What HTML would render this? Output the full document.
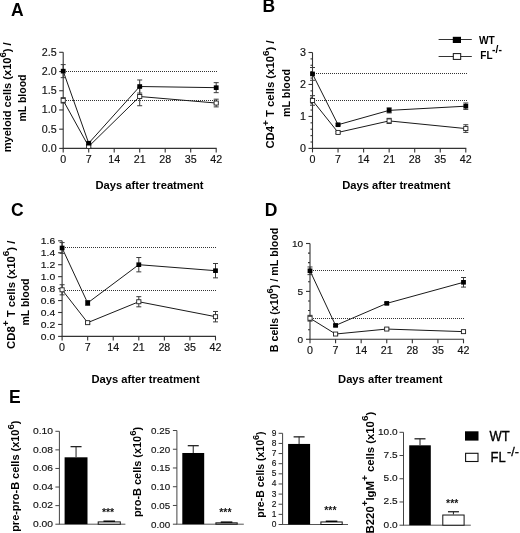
<!DOCTYPE html>
<html><head><meta charset="utf-8"><style>
html,body{margin:0;padding:0;background:#fff;}
svg{display:block;font-family:"Liberation Sans", sans-serif;filter:blur(0.3px);}
</style></head><body>
<svg width="520" height="533" viewBox="0 0 520 533">
<rect width="520" height="533" fill="#fff"/>
<line x1="63.20" y1="52.30" x2="63.20" y2="148.90" stroke="#333" stroke-width="1.1"/>
<line x1="62.70" y1="148.40" x2="216.70" y2="148.40" stroke="#333" stroke-width="1.1"/>
<line x1="59.20" y1="148.40" x2="63.20" y2="148.40" stroke="#333" stroke-width="1.1"/>
<text x="0" y="0" font-size="10.2" text-anchor="end" transform="translate(56.60 151.80) scale(1.05 1)" fill="#111" stroke="#111" stroke-width="0.15">0.0</text>
<line x1="59.20" y1="129.18" x2="63.20" y2="129.18" stroke="#333" stroke-width="1.1"/>
<text x="0" y="0" font-size="10.2" text-anchor="end" transform="translate(56.60 132.58) scale(1.05 1)" fill="#111" stroke="#111" stroke-width="0.15">0.5</text>
<line x1="59.20" y1="109.96" x2="63.20" y2="109.96" stroke="#333" stroke-width="1.1"/>
<text x="0" y="0" font-size="10.2" text-anchor="end" transform="translate(56.60 113.36) scale(1.05 1)" fill="#111" stroke="#111" stroke-width="0.15">1.0</text>
<line x1="59.20" y1="90.74" x2="63.20" y2="90.74" stroke="#333" stroke-width="1.1"/>
<text x="0" y="0" font-size="10.2" text-anchor="end" transform="translate(56.60 94.14) scale(1.05 1)" fill="#111" stroke="#111" stroke-width="0.15">1.5</text>
<line x1="59.20" y1="71.52" x2="63.20" y2="71.52" stroke="#333" stroke-width="1.1"/>
<text x="0" y="0" font-size="10.2" text-anchor="end" transform="translate(56.60 74.92) scale(1.05 1)" fill="#111" stroke="#111" stroke-width="0.15">2.0</text>
<line x1="59.20" y1="52.30" x2="63.20" y2="52.30" stroke="#333" stroke-width="1.1"/>
<text x="0" y="0" font-size="10.2" text-anchor="end" transform="translate(56.60 55.70) scale(1.05 1)" fill="#111" stroke="#111" stroke-width="0.15">2.5</text>
<line x1="63.20" y1="148.40" x2="63.20" y2="152.40" stroke="#333" stroke-width="1.1"/>
<text x="0" y="0" font-size="10.2" text-anchor="middle" transform="translate(63.20 162.90) scale(1.05 1)" fill="#111" stroke="#111" stroke-width="0.15">0</text>
<line x1="88.70" y1="148.40" x2="88.70" y2="152.40" stroke="#333" stroke-width="1.1"/>
<text x="0" y="0" font-size="10.2" text-anchor="middle" transform="translate(88.70 162.90) scale(1.05 1)" fill="#111" stroke="#111" stroke-width="0.15">7</text>
<line x1="114.20" y1="148.40" x2="114.20" y2="152.40" stroke="#333" stroke-width="1.1"/>
<text x="0" y="0" font-size="10.2" text-anchor="middle" transform="translate(114.20 162.90) scale(1.05 1)" fill="#111" stroke="#111" stroke-width="0.15">14</text>
<line x1="139.70" y1="148.40" x2="139.70" y2="152.40" stroke="#333" stroke-width="1.1"/>
<text x="0" y="0" font-size="10.2" text-anchor="middle" transform="translate(139.70 162.90) scale(1.05 1)" fill="#111" stroke="#111" stroke-width="0.15">21</text>
<line x1="165.20" y1="148.40" x2="165.20" y2="152.40" stroke="#333" stroke-width="1.1"/>
<text x="0" y="0" font-size="10.2" text-anchor="middle" transform="translate(165.20 162.90) scale(1.05 1)" fill="#111" stroke="#111" stroke-width="0.15">28</text>
<line x1="190.70" y1="148.40" x2="190.70" y2="152.40" stroke="#333" stroke-width="1.1"/>
<text x="0" y="0" font-size="10.2" text-anchor="middle" transform="translate(190.70 162.90) scale(1.05 1)" fill="#111" stroke="#111" stroke-width="0.15">35</text>
<line x1="216.20" y1="148.40" x2="216.20" y2="152.40" stroke="#333" stroke-width="1.1"/>
<text x="0" y="0" font-size="10.2" text-anchor="middle" transform="translate(216.20 162.90) scale(1.05 1)" fill="#111" stroke="#111" stroke-width="0.15">42</text>
<line x1="64.00" y1="71.50" x2="217.00" y2="71.50" stroke="#333" stroke-width="1" stroke-dasharray="1 1"/>
<line x1="64.00" y1="100.50" x2="217.00" y2="100.50" stroke="#333" stroke-width="1" stroke-dasharray="1 1"/>
<polyline points="63.20,100.35 88.70,146.48 139.70,96.51 216.20,103.04" fill="none" stroke="#1a1a1a" stroke-width="1"/>
<line x1="63.20" y1="97.66" x2="63.20" y2="103.04" stroke="#3a3a3a" stroke-width="1"/>
<line x1="60.70" y1="97.66" x2="65.70" y2="97.66" stroke="#3a3a3a" stroke-width="1"/>
<line x1="60.70" y1="103.04" x2="65.70" y2="103.04" stroke="#3a3a3a" stroke-width="1"/>
<rect x="61.10" y="98.35" width="4.20" height="4.00" fill="#fff" stroke="#222" stroke-width="0.9"/>
<line x1="88.70" y1="145.32" x2="88.70" y2="147.63" stroke="#3a3a3a" stroke-width="1"/>
<line x1="86.20" y1="145.32" x2="91.20" y2="145.32" stroke="#3a3a3a" stroke-width="1"/>
<line x1="86.20" y1="147.63" x2="91.20" y2="147.63" stroke="#3a3a3a" stroke-width="1"/>
<rect x="86.60" y="144.48" width="4.20" height="4.00" fill="#fff" stroke="#222" stroke-width="0.9"/>
<line x1="139.70" y1="87.28" x2="139.70" y2="105.73" stroke="#3a3a3a" stroke-width="1"/>
<line x1="137.20" y1="87.28" x2="142.20" y2="87.28" stroke="#3a3a3a" stroke-width="1"/>
<line x1="137.20" y1="105.73" x2="142.20" y2="105.73" stroke="#3a3a3a" stroke-width="1"/>
<rect x="137.60" y="94.51" width="4.20" height="4.00" fill="#fff" stroke="#222" stroke-width="0.9"/>
<line x1="216.20" y1="99.20" x2="216.20" y2="106.88" stroke="#3a3a3a" stroke-width="1"/>
<line x1="213.70" y1="99.20" x2="218.70" y2="99.20" stroke="#3a3a3a" stroke-width="1"/>
<line x1="213.70" y1="106.88" x2="218.70" y2="106.88" stroke="#3a3a3a" stroke-width="1"/>
<rect x="214.10" y="101.04" width="4.20" height="4.00" fill="#fff" stroke="#222" stroke-width="0.9"/>
<polyline points="63.20,71.14 88.70,143.21 139.70,86.51 216.20,87.66" fill="none" stroke="#1a1a1a" stroke-width="1"/>
<line x1="63.20" y1="64.60" x2="63.20" y2="77.67" stroke="#3a3a3a" stroke-width="1"/>
<line x1="60.70" y1="64.60" x2="65.70" y2="64.60" stroke="#3a3a3a" stroke-width="1"/>
<line x1="60.70" y1="77.67" x2="65.70" y2="77.67" stroke="#3a3a3a" stroke-width="1"/>
<rect x="60.80" y="68.84" width="4.80" height="4.60" fill="#000" stroke="none" stroke-width="1"/>
<line x1="88.70" y1="142.06" x2="88.70" y2="144.36" stroke="#3a3a3a" stroke-width="1"/>
<line x1="86.20" y1="142.06" x2="91.20" y2="142.06" stroke="#3a3a3a" stroke-width="1"/>
<line x1="86.20" y1="144.36" x2="91.20" y2="144.36" stroke="#3a3a3a" stroke-width="1"/>
<rect x="86.30" y="140.91" width="4.80" height="4.60" fill="#000" stroke="none" stroke-width="1"/>
<line x1="139.70" y1="79.98" x2="139.70" y2="93.05" stroke="#3a3a3a" stroke-width="1"/>
<line x1="137.20" y1="79.98" x2="142.20" y2="79.98" stroke="#3a3a3a" stroke-width="1"/>
<line x1="137.20" y1="93.05" x2="142.20" y2="93.05" stroke="#3a3a3a" stroke-width="1"/>
<rect x="137.30" y="84.21" width="4.80" height="4.60" fill="#000" stroke="none" stroke-width="1"/>
<line x1="216.20" y1="82.67" x2="216.20" y2="92.66" stroke="#3a3a3a" stroke-width="1"/>
<line x1="213.70" y1="82.67" x2="218.70" y2="82.67" stroke="#3a3a3a" stroke-width="1"/>
<line x1="213.70" y1="92.66" x2="218.70" y2="92.66" stroke="#3a3a3a" stroke-width="1"/>
<rect x="213.80" y="85.36" width="4.80" height="4.60" fill="#000" stroke="none" stroke-width="1"/>
<line x1="312.50" y1="52.50" x2="312.50" y2="148.90" stroke="#333" stroke-width="1.1"/>
<line x1="312.00" y1="148.40" x2="466.30" y2="148.40" stroke="#333" stroke-width="1.1"/>
<line x1="308.50" y1="148.40" x2="312.50" y2="148.40" stroke="#333" stroke-width="1.1"/>
<text x="0" y="0" font-size="10.2" text-anchor="end" transform="translate(305.90 151.80) scale(1.05 1)" fill="#111" stroke="#111" stroke-width="0.15">0</text>
<line x1="308.50" y1="116.43" x2="312.50" y2="116.43" stroke="#333" stroke-width="1.1"/>
<text x="0" y="0" font-size="10.2" text-anchor="end" transform="translate(305.90 119.83) scale(1.05 1)" fill="#111" stroke="#111" stroke-width="0.15">1</text>
<line x1="308.50" y1="84.47" x2="312.50" y2="84.47" stroke="#333" stroke-width="1.1"/>
<text x="0" y="0" font-size="10.2" text-anchor="end" transform="translate(305.90 87.87) scale(1.05 1)" fill="#111" stroke="#111" stroke-width="0.15">2</text>
<line x1="308.50" y1="52.50" x2="312.50" y2="52.50" stroke="#333" stroke-width="1.1"/>
<text x="0" y="0" font-size="10.2" text-anchor="end" transform="translate(305.90 55.90) scale(1.05 1)" fill="#111" stroke="#111" stroke-width="0.15">3</text>
<line x1="310.50" y1="142.01" x2="312.50" y2="142.01" stroke="#333" stroke-width="1.1"/>
<line x1="310.50" y1="135.61" x2="312.50" y2="135.61" stroke="#333" stroke-width="1.1"/>
<line x1="310.50" y1="129.22" x2="312.50" y2="129.22" stroke="#333" stroke-width="1.1"/>
<line x1="310.50" y1="122.83" x2="312.50" y2="122.83" stroke="#333" stroke-width="1.1"/>
<line x1="310.50" y1="110.04" x2="312.50" y2="110.04" stroke="#333" stroke-width="1.1"/>
<line x1="310.50" y1="103.65" x2="312.50" y2="103.65" stroke="#333" stroke-width="1.1"/>
<line x1="310.50" y1="97.25" x2="312.50" y2="97.25" stroke="#333" stroke-width="1.1"/>
<line x1="310.50" y1="90.86" x2="312.50" y2="90.86" stroke="#333" stroke-width="1.1"/>
<line x1="310.50" y1="78.07" x2="312.50" y2="78.07" stroke="#333" stroke-width="1.1"/>
<line x1="310.50" y1="71.68" x2="312.50" y2="71.68" stroke="#333" stroke-width="1.1"/>
<line x1="310.50" y1="65.29" x2="312.50" y2="65.29" stroke="#333" stroke-width="1.1"/>
<line x1="310.50" y1="58.89" x2="312.50" y2="58.89" stroke="#333" stroke-width="1.1"/>
<line x1="312.50" y1="148.40" x2="312.50" y2="152.40" stroke="#333" stroke-width="1.1"/>
<text x="0" y="0" font-size="10.2" text-anchor="middle" transform="translate(312.50 162.90) scale(1.05 1)" fill="#111" stroke="#111" stroke-width="0.15">0</text>
<line x1="338.05" y1="148.40" x2="338.05" y2="152.40" stroke="#333" stroke-width="1.1"/>
<text x="0" y="0" font-size="10.2" text-anchor="middle" transform="translate(338.05 162.90) scale(1.05 1)" fill="#111" stroke="#111" stroke-width="0.15">7</text>
<line x1="363.60" y1="148.40" x2="363.60" y2="152.40" stroke="#333" stroke-width="1.1"/>
<text x="0" y="0" font-size="10.2" text-anchor="middle" transform="translate(363.60 162.90) scale(1.05 1)" fill="#111" stroke="#111" stroke-width="0.15">14</text>
<line x1="389.15" y1="148.40" x2="389.15" y2="152.40" stroke="#333" stroke-width="1.1"/>
<text x="0" y="0" font-size="10.2" text-anchor="middle" transform="translate(389.15 162.90) scale(1.05 1)" fill="#111" stroke="#111" stroke-width="0.15">21</text>
<line x1="414.70" y1="148.40" x2="414.70" y2="152.40" stroke="#333" stroke-width="1.1"/>
<text x="0" y="0" font-size="10.2" text-anchor="middle" transform="translate(414.70 162.90) scale(1.05 1)" fill="#111" stroke="#111" stroke-width="0.15">28</text>
<line x1="440.25" y1="148.40" x2="440.25" y2="152.40" stroke="#333" stroke-width="1.1"/>
<text x="0" y="0" font-size="10.2" text-anchor="middle" transform="translate(440.25 162.90) scale(1.05 1)" fill="#111" stroke="#111" stroke-width="0.15">35</text>
<line x1="465.80" y1="148.40" x2="465.80" y2="152.40" stroke="#333" stroke-width="1.1"/>
<text x="0" y="0" font-size="10.2" text-anchor="middle" transform="translate(465.80 162.90) scale(1.05 1)" fill="#111" stroke="#111" stroke-width="0.15">42</text>
<line x1="314.00" y1="73.50" x2="467.00" y2="73.50" stroke="#333" stroke-width="1" stroke-dasharray="1 1"/>
<line x1="314.00" y1="100.50" x2="467.00" y2="100.50" stroke="#333" stroke-width="1" stroke-dasharray="1 1"/>
<polyline points="312.50,100.45 338.05,132.42 389.15,120.91 465.80,128.58" fill="none" stroke="#1a1a1a" stroke-width="1"/>
<line x1="312.50" y1="95.66" x2="312.50" y2="105.25" stroke="#3a3a3a" stroke-width="1"/>
<line x1="310.00" y1="95.66" x2="315.00" y2="95.66" stroke="#3a3a3a" stroke-width="1"/>
<line x1="310.00" y1="105.25" x2="315.00" y2="105.25" stroke="#3a3a3a" stroke-width="1"/>
<rect x="310.40" y="98.45" width="4.20" height="4.00" fill="#fff" stroke="#222" stroke-width="0.9"/>
<line x1="338.05" y1="131.46" x2="338.05" y2="133.38" stroke="#3a3a3a" stroke-width="1"/>
<line x1="335.55" y1="131.46" x2="340.55" y2="131.46" stroke="#3a3a3a" stroke-width="1"/>
<line x1="335.55" y1="133.38" x2="340.55" y2="133.38" stroke="#3a3a3a" stroke-width="1"/>
<rect x="335.95" y="130.42" width="4.20" height="4.00" fill="#fff" stroke="#222" stroke-width="0.9"/>
<line x1="389.15" y1="118.35" x2="389.15" y2="123.47" stroke="#3a3a3a" stroke-width="1"/>
<line x1="386.65" y1="118.35" x2="391.65" y2="118.35" stroke="#3a3a3a" stroke-width="1"/>
<line x1="386.65" y1="123.47" x2="391.65" y2="123.47" stroke="#3a3a3a" stroke-width="1"/>
<rect x="387.05" y="118.91" width="4.20" height="4.00" fill="#fff" stroke="#222" stroke-width="0.9"/>
<line x1="465.80" y1="124.74" x2="465.80" y2="132.42" stroke="#3a3a3a" stroke-width="1"/>
<line x1="463.30" y1="124.74" x2="468.30" y2="124.74" stroke="#3a3a3a" stroke-width="1"/>
<line x1="463.30" y1="132.42" x2="468.30" y2="132.42" stroke="#3a3a3a" stroke-width="1"/>
<rect x="463.70" y="126.58" width="4.20" height="4.00" fill="#fff" stroke="#222" stroke-width="0.9"/>
<polyline points="312.50,73.92 338.05,124.74 389.15,110.36 465.80,106.20" fill="none" stroke="#1a1a1a" stroke-width="1"/>
<line x1="312.50" y1="67.52" x2="312.50" y2="80.31" stroke="#3a3a3a" stroke-width="1"/>
<line x1="310.00" y1="67.52" x2="315.00" y2="67.52" stroke="#3a3a3a" stroke-width="1"/>
<line x1="310.00" y1="80.31" x2="315.00" y2="80.31" stroke="#3a3a3a" stroke-width="1"/>
<rect x="310.10" y="71.62" width="4.80" height="4.60" fill="#000" stroke="none" stroke-width="1"/>
<line x1="338.05" y1="123.79" x2="338.05" y2="125.70" stroke="#3a3a3a" stroke-width="1"/>
<line x1="335.55" y1="123.79" x2="340.55" y2="123.79" stroke="#3a3a3a" stroke-width="1"/>
<line x1="335.55" y1="125.70" x2="340.55" y2="125.70" stroke="#3a3a3a" stroke-width="1"/>
<rect x="335.65" y="122.44" width="4.80" height="4.60" fill="#000" stroke="none" stroke-width="1"/>
<line x1="389.15" y1="107.80" x2="389.15" y2="112.92" stroke="#3a3a3a" stroke-width="1"/>
<line x1="386.65" y1="107.80" x2="391.65" y2="107.80" stroke="#3a3a3a" stroke-width="1"/>
<line x1="386.65" y1="112.92" x2="391.65" y2="112.92" stroke="#3a3a3a" stroke-width="1"/>
<rect x="386.75" y="108.06" width="4.80" height="4.60" fill="#000" stroke="none" stroke-width="1"/>
<line x1="465.80" y1="103.01" x2="465.80" y2="109.40" stroke="#3a3a3a" stroke-width="1"/>
<line x1="463.30" y1="103.01" x2="468.30" y2="103.01" stroke="#3a3a3a" stroke-width="1"/>
<line x1="463.30" y1="109.40" x2="468.30" y2="109.40" stroke="#3a3a3a" stroke-width="1"/>
<rect x="463.40" y="103.90" width="4.80" height="4.60" fill="#000" stroke="none" stroke-width="1"/>
<line x1="62.10" y1="240.80" x2="62.10" y2="336.90" stroke="#333" stroke-width="1.1"/>
<line x1="61.60" y1="336.40" x2="216.00" y2="336.40" stroke="#333" stroke-width="1.1"/>
<line x1="58.10" y1="336.40" x2="62.10" y2="336.40" stroke="#333" stroke-width="1.1"/>
<text x="0" y="0" font-size="9.0" text-anchor="end" transform="translate(55.20 339.80) scale(1.15 1)" fill="#111" stroke="#111" stroke-width="0.15">0.0</text>
<line x1="58.10" y1="324.45" x2="62.10" y2="324.45" stroke="#333" stroke-width="1.1"/>
<text x="0" y="0" font-size="9.0" text-anchor="end" transform="translate(55.20 327.85) scale(1.15 1)" fill="#111" stroke="#111" stroke-width="0.15">0.2</text>
<line x1="58.10" y1="312.50" x2="62.10" y2="312.50" stroke="#333" stroke-width="1.1"/>
<text x="0" y="0" font-size="9.0" text-anchor="end" transform="translate(55.20 315.90) scale(1.15 1)" fill="#111" stroke="#111" stroke-width="0.15">0.4</text>
<line x1="58.10" y1="300.55" x2="62.10" y2="300.55" stroke="#333" stroke-width="1.1"/>
<text x="0" y="0" font-size="9.0" text-anchor="end" transform="translate(55.20 303.95) scale(1.15 1)" fill="#111" stroke="#111" stroke-width="0.15">0.6</text>
<line x1="58.10" y1="288.60" x2="62.10" y2="288.60" stroke="#333" stroke-width="1.1"/>
<text x="0" y="0" font-size="9.0" text-anchor="end" transform="translate(55.20 292.00) scale(1.15 1)" fill="#111" stroke="#111" stroke-width="0.15">0.8</text>
<line x1="58.10" y1="276.65" x2="62.10" y2="276.65" stroke="#333" stroke-width="1.1"/>
<text x="0" y="0" font-size="9.0" text-anchor="end" transform="translate(55.20 280.05) scale(1.15 1)" fill="#111" stroke="#111" stroke-width="0.15">1.0</text>
<line x1="58.10" y1="264.70" x2="62.10" y2="264.70" stroke="#333" stroke-width="1.1"/>
<text x="0" y="0" font-size="9.0" text-anchor="end" transform="translate(55.20 268.10) scale(1.15 1)" fill="#111" stroke="#111" stroke-width="0.15">1.2</text>
<line x1="58.10" y1="252.75" x2="62.10" y2="252.75" stroke="#333" stroke-width="1.1"/>
<text x="0" y="0" font-size="9.0" text-anchor="end" transform="translate(55.20 256.15) scale(1.15 1)" fill="#111" stroke="#111" stroke-width="0.15">1.4</text>
<line x1="58.10" y1="240.80" x2="62.10" y2="240.80" stroke="#333" stroke-width="1.1"/>
<text x="0" y="0" font-size="9.0" text-anchor="end" transform="translate(55.20 244.20) scale(1.15 1)" fill="#111" stroke="#111" stroke-width="0.15">1.6</text>
<line x1="62.10" y1="336.40" x2="62.10" y2="340.40" stroke="#333" stroke-width="1.1"/>
<text x="0" y="0" font-size="10.2" text-anchor="middle" transform="translate(62.10 350.90) scale(1.05 1)" fill="#111" stroke="#111" stroke-width="0.15">0</text>
<line x1="87.67" y1="336.40" x2="87.67" y2="340.40" stroke="#333" stroke-width="1.1"/>
<text x="0" y="0" font-size="10.2" text-anchor="middle" transform="translate(87.67 350.90) scale(1.05 1)" fill="#111" stroke="#111" stroke-width="0.15">7</text>
<line x1="113.23" y1="336.40" x2="113.23" y2="340.40" stroke="#333" stroke-width="1.1"/>
<text x="0" y="0" font-size="10.2" text-anchor="middle" transform="translate(113.23 350.90) scale(1.05 1)" fill="#111" stroke="#111" stroke-width="0.15">14</text>
<line x1="138.80" y1="336.40" x2="138.80" y2="340.40" stroke="#333" stroke-width="1.1"/>
<text x="0" y="0" font-size="10.2" text-anchor="middle" transform="translate(138.80 350.90) scale(1.05 1)" fill="#111" stroke="#111" stroke-width="0.15">21</text>
<line x1="164.37" y1="336.40" x2="164.37" y2="340.40" stroke="#333" stroke-width="1.1"/>
<text x="0" y="0" font-size="10.2" text-anchor="middle" transform="translate(164.37 350.90) scale(1.05 1)" fill="#111" stroke="#111" stroke-width="0.15">28</text>
<line x1="189.93" y1="336.40" x2="189.93" y2="340.40" stroke="#333" stroke-width="1.1"/>
<text x="0" y="0" font-size="10.2" text-anchor="middle" transform="translate(189.93 350.90) scale(1.05 1)" fill="#111" stroke="#111" stroke-width="0.15">35</text>
<line x1="215.50" y1="336.40" x2="215.50" y2="340.40" stroke="#333" stroke-width="1.1"/>
<text x="0" y="0" font-size="10.2" text-anchor="middle" transform="translate(215.50 350.90) scale(1.05 1)" fill="#111" stroke="#111" stroke-width="0.15">42</text>
<line x1="63.00" y1="247.50" x2="216.00" y2="247.50" stroke="#333" stroke-width="1" stroke-dasharray="1 1"/>
<line x1="63.00" y1="290.50" x2="216.00" y2="290.50" stroke="#333" stroke-width="1" stroke-dasharray="1 1"/>
<polyline points="62.10,289.80 87.67,322.66 138.80,301.75 215.50,316.68" fill="none" stroke="#1a1a1a" stroke-width="1"/>
<line x1="62.10" y1="284.72" x2="62.10" y2="294.87" stroke="#3a3a3a" stroke-width="1"/>
<line x1="59.60" y1="284.72" x2="64.60" y2="284.72" stroke="#3a3a3a" stroke-width="1"/>
<line x1="59.60" y1="294.87" x2="64.60" y2="294.87" stroke="#3a3a3a" stroke-width="1"/>
<rect x="60.00" y="287.80" width="4.20" height="4.00" fill="#fff" stroke="#222" stroke-width="0.9"/>
<line x1="87.67" y1="321.46" x2="87.67" y2="323.85" stroke="#3a3a3a" stroke-width="1"/>
<line x1="85.17" y1="321.46" x2="90.17" y2="321.46" stroke="#3a3a3a" stroke-width="1"/>
<line x1="85.17" y1="323.85" x2="90.17" y2="323.85" stroke="#3a3a3a" stroke-width="1"/>
<rect x="85.57" y="320.66" width="4.20" height="4.00" fill="#fff" stroke="#222" stroke-width="0.9"/>
<line x1="138.80" y1="296.67" x2="138.80" y2="306.82" stroke="#3a3a3a" stroke-width="1"/>
<line x1="136.30" y1="296.67" x2="141.30" y2="296.67" stroke="#3a3a3a" stroke-width="1"/>
<line x1="136.30" y1="306.82" x2="141.30" y2="306.82" stroke="#3a3a3a" stroke-width="1"/>
<rect x="136.70" y="299.75" width="4.20" height="4.00" fill="#fff" stroke="#222" stroke-width="0.9"/>
<line x1="215.50" y1="311.48" x2="215.50" y2="321.88" stroke="#3a3a3a" stroke-width="1"/>
<line x1="213.00" y1="311.48" x2="218.00" y2="311.48" stroke="#3a3a3a" stroke-width="1"/>
<line x1="213.00" y1="321.88" x2="218.00" y2="321.88" stroke="#3a3a3a" stroke-width="1"/>
<rect x="213.40" y="314.68" width="4.20" height="4.00" fill="#fff" stroke="#222" stroke-width="0.9"/>
<polyline points="62.10,247.97 87.67,302.94 138.80,264.70 215.50,270.68" fill="none" stroke="#1a1a1a" stroke-width="1"/>
<line x1="62.10" y1="242.59" x2="62.10" y2="253.35" stroke="#3a3a3a" stroke-width="1"/>
<line x1="59.60" y1="242.59" x2="64.60" y2="242.59" stroke="#3a3a3a" stroke-width="1"/>
<line x1="59.60" y1="253.35" x2="64.60" y2="253.35" stroke="#3a3a3a" stroke-width="1"/>
<rect x="59.70" y="245.67" width="4.80" height="4.60" fill="#000" stroke="none" stroke-width="1"/>
<line x1="87.67" y1="300.55" x2="87.67" y2="305.33" stroke="#3a3a3a" stroke-width="1"/>
<line x1="85.17" y1="300.55" x2="90.17" y2="300.55" stroke="#3a3a3a" stroke-width="1"/>
<line x1="85.17" y1="305.33" x2="90.17" y2="305.33" stroke="#3a3a3a" stroke-width="1"/>
<rect x="85.27" y="300.64" width="4.80" height="4.60" fill="#000" stroke="none" stroke-width="1"/>
<line x1="138.80" y1="257.53" x2="138.80" y2="271.87" stroke="#3a3a3a" stroke-width="1"/>
<line x1="136.30" y1="257.53" x2="141.30" y2="257.53" stroke="#3a3a3a" stroke-width="1"/>
<line x1="136.30" y1="271.87" x2="141.30" y2="271.87" stroke="#3a3a3a" stroke-width="1"/>
<rect x="136.40" y="262.40" width="4.80" height="4.60" fill="#000" stroke="none" stroke-width="1"/>
<line x1="215.50" y1="263.50" x2="215.50" y2="277.85" stroke="#3a3a3a" stroke-width="1"/>
<line x1="213.00" y1="263.50" x2="218.00" y2="263.50" stroke="#3a3a3a" stroke-width="1"/>
<line x1="213.00" y1="277.85" x2="218.00" y2="277.85" stroke="#3a3a3a" stroke-width="1"/>
<rect x="213.10" y="268.38" width="4.80" height="4.60" fill="#000" stroke="none" stroke-width="1"/>
<line x1="310.00" y1="243.50" x2="310.00" y2="339.80" stroke="#333" stroke-width="1.1"/>
<line x1="309.50" y1="339.30" x2="464.00" y2="339.30" stroke="#333" stroke-width="1.1"/>
<line x1="306.00" y1="339.30" x2="310.00" y2="339.30" stroke="#333" stroke-width="1.1"/>
<text x="0" y="0" font-size="9.0" text-anchor="end" transform="translate(303.10 342.70) scale(1.12 1)" fill="#111" stroke="#111" stroke-width="0.15">0</text>
<line x1="306.00" y1="291.40" x2="310.00" y2="291.40" stroke="#333" stroke-width="1.1"/>
<text x="0" y="0" font-size="9.0" text-anchor="end" transform="translate(303.10 294.80) scale(1.12 1)" fill="#111" stroke="#111" stroke-width="0.15">5</text>
<line x1="306.00" y1="243.50" x2="310.00" y2="243.50" stroke="#333" stroke-width="1.1"/>
<text x="0" y="0" font-size="9.0" text-anchor="end" transform="translate(303.10 246.90) scale(1.12 1)" fill="#111" stroke="#111" stroke-width="0.15">10</text>
<line x1="308.00" y1="329.72" x2="310.00" y2="329.72" stroke="#333" stroke-width="1.1"/>
<line x1="308.00" y1="320.14" x2="310.00" y2="320.14" stroke="#333" stroke-width="1.1"/>
<line x1="308.00" y1="310.56" x2="310.00" y2="310.56" stroke="#333" stroke-width="1.1"/>
<line x1="308.00" y1="300.98" x2="310.00" y2="300.98" stroke="#333" stroke-width="1.1"/>
<line x1="308.00" y1="281.82" x2="310.00" y2="281.82" stroke="#333" stroke-width="1.1"/>
<line x1="308.00" y1="272.24" x2="310.00" y2="272.24" stroke="#333" stroke-width="1.1"/>
<line x1="308.00" y1="262.66" x2="310.00" y2="262.66" stroke="#333" stroke-width="1.1"/>
<line x1="308.00" y1="253.08" x2="310.00" y2="253.08" stroke="#333" stroke-width="1.1"/>
<line x1="310.00" y1="339.30" x2="310.00" y2="343.30" stroke="#333" stroke-width="1.1"/>
<text x="0" y="0" font-size="10.2" text-anchor="middle" transform="translate(310.00 353.80) scale(1.05 1)" fill="#111" stroke="#111" stroke-width="0.15">0</text>
<line x1="335.58" y1="339.30" x2="335.58" y2="343.30" stroke="#333" stroke-width="1.1"/>
<text x="0" y="0" font-size="10.2" text-anchor="middle" transform="translate(335.58 353.80) scale(1.05 1)" fill="#111" stroke="#111" stroke-width="0.15">7</text>
<line x1="361.17" y1="339.30" x2="361.17" y2="343.30" stroke="#333" stroke-width="1.1"/>
<text x="0" y="0" font-size="10.2" text-anchor="middle" transform="translate(361.17 353.80) scale(1.05 1)" fill="#111" stroke="#111" stroke-width="0.15">14</text>
<line x1="386.75" y1="339.30" x2="386.75" y2="343.30" stroke="#333" stroke-width="1.1"/>
<text x="0" y="0" font-size="10.2" text-anchor="middle" transform="translate(386.75 353.80) scale(1.05 1)" fill="#111" stroke="#111" stroke-width="0.15">21</text>
<line x1="412.33" y1="339.30" x2="412.33" y2="343.30" stroke="#333" stroke-width="1.1"/>
<text x="0" y="0" font-size="10.2" text-anchor="middle" transform="translate(412.33 353.80) scale(1.05 1)" fill="#111" stroke="#111" stroke-width="0.15">28</text>
<line x1="437.92" y1="339.30" x2="437.92" y2="343.30" stroke="#333" stroke-width="1.1"/>
<text x="0" y="0" font-size="10.2" text-anchor="middle" transform="translate(437.92 353.80) scale(1.05 1)" fill="#111" stroke="#111" stroke-width="0.15">35</text>
<line x1="463.50" y1="339.30" x2="463.50" y2="343.30" stroke="#333" stroke-width="1.1"/>
<text x="0" y="0" font-size="10.2" text-anchor="middle" transform="translate(463.50 353.80) scale(1.05 1)" fill="#111" stroke="#111" stroke-width="0.15">42</text>
<line x1="311.00" y1="270.50" x2="464.00" y2="270.50" stroke="#333" stroke-width="1" stroke-dasharray="1 1"/>
<line x1="311.00" y1="318.50" x2="464.00" y2="318.50" stroke="#333" stroke-width="1" stroke-dasharray="1 1"/>
<polyline points="310.00,318.22 335.58,334.03 386.75,329.05 463.50,331.64" fill="none" stroke="#1a1a1a" stroke-width="1"/>
<line x1="310.00" y1="315.35" x2="310.00" y2="321.10" stroke="#3a3a3a" stroke-width="1"/>
<line x1="307.50" y1="315.35" x2="312.50" y2="315.35" stroke="#3a3a3a" stroke-width="1"/>
<line x1="307.50" y1="321.10" x2="312.50" y2="321.10" stroke="#3a3a3a" stroke-width="1"/>
<rect x="307.90" y="316.22" width="4.20" height="4.00" fill="#fff" stroke="#222" stroke-width="0.9"/>
<line x1="335.58" y1="333.07" x2="335.58" y2="334.99" stroke="#3a3a3a" stroke-width="1"/>
<line x1="333.08" y1="333.07" x2="338.08" y2="333.07" stroke="#3a3a3a" stroke-width="1"/>
<line x1="333.08" y1="334.99" x2="338.08" y2="334.99" stroke="#3a3a3a" stroke-width="1"/>
<rect x="333.48" y="332.03" width="4.20" height="4.00" fill="#fff" stroke="#222" stroke-width="0.9"/>
<line x1="386.75" y1="328.09" x2="386.75" y2="330.01" stroke="#3a3a3a" stroke-width="1"/>
<line x1="384.25" y1="328.09" x2="389.25" y2="328.09" stroke="#3a3a3a" stroke-width="1"/>
<line x1="384.25" y1="330.01" x2="389.25" y2="330.01" stroke="#3a3a3a" stroke-width="1"/>
<rect x="384.65" y="327.05" width="4.20" height="4.00" fill="#fff" stroke="#222" stroke-width="0.9"/>
<line x1="463.50" y1="330.68" x2="463.50" y2="332.59" stroke="#3a3a3a" stroke-width="1"/>
<line x1="461.00" y1="330.68" x2="466.00" y2="330.68" stroke="#3a3a3a" stroke-width="1"/>
<line x1="461.00" y1="332.59" x2="466.00" y2="332.59" stroke="#3a3a3a" stroke-width="1"/>
<rect x="461.40" y="329.64" width="4.20" height="4.00" fill="#fff" stroke="#222" stroke-width="0.9"/>
<polyline points="310.00,270.80 335.58,325.41 386.75,303.38 463.50,282.30" fill="none" stroke="#1a1a1a" stroke-width="1"/>
<line x1="310.00" y1="266.97" x2="310.00" y2="274.63" stroke="#3a3a3a" stroke-width="1"/>
<line x1="307.50" y1="266.97" x2="312.50" y2="266.97" stroke="#3a3a3a" stroke-width="1"/>
<line x1="307.50" y1="274.63" x2="312.50" y2="274.63" stroke="#3a3a3a" stroke-width="1"/>
<rect x="307.60" y="268.50" width="4.80" height="4.60" fill="#000" stroke="none" stroke-width="1"/>
<line x1="335.58" y1="324.45" x2="335.58" y2="326.37" stroke="#3a3a3a" stroke-width="1"/>
<line x1="333.08" y1="324.45" x2="338.08" y2="324.45" stroke="#3a3a3a" stroke-width="1"/>
<line x1="333.08" y1="326.37" x2="338.08" y2="326.37" stroke="#3a3a3a" stroke-width="1"/>
<rect x="333.18" y="323.11" width="4.80" height="4.60" fill="#000" stroke="none" stroke-width="1"/>
<line x1="386.75" y1="302.42" x2="386.75" y2="304.33" stroke="#3a3a3a" stroke-width="1"/>
<line x1="384.25" y1="302.42" x2="389.25" y2="302.42" stroke="#3a3a3a" stroke-width="1"/>
<line x1="384.25" y1="304.33" x2="389.25" y2="304.33" stroke="#3a3a3a" stroke-width="1"/>
<rect x="384.35" y="301.07" width="4.80" height="4.60" fill="#000" stroke="none" stroke-width="1"/>
<line x1="463.50" y1="277.51" x2="463.50" y2="287.09" stroke="#3a3a3a" stroke-width="1"/>
<line x1="461.00" y1="277.51" x2="466.00" y2="277.51" stroke="#3a3a3a" stroke-width="1"/>
<line x1="461.00" y1="287.09" x2="466.00" y2="287.09" stroke="#3a3a3a" stroke-width="1"/>
<rect x="461.10" y="280.00" width="4.80" height="4.60" fill="#000" stroke="none" stroke-width="1"/>
<line x1="59.40" y1="431.30" x2="59.40" y2="524.20" stroke="#444" stroke-width="1"/>
<line x1="58.90" y1="524.20" x2="125.40" y2="524.20" stroke="#555" stroke-width="1"/>
<line x1="55.40" y1="524.20" x2="59.40" y2="524.20" stroke="#444" stroke-width="1"/>
<text x="0" y="0" font-size="9.8" text-anchor="end" transform="translate(53.00 527.00) scale(1.05 1)" fill="#111" stroke="#111" stroke-width="0.15">0.00</text>
<line x1="55.40" y1="505.62" x2="59.40" y2="505.62" stroke="#444" stroke-width="1"/>
<text x="0" y="0" font-size="9.8" text-anchor="end" transform="translate(53.00 508.42) scale(1.05 1)" fill="#111" stroke="#111" stroke-width="0.15">0.02</text>
<line x1="55.40" y1="487.04" x2="59.40" y2="487.04" stroke="#444" stroke-width="1"/>
<text x="0" y="0" font-size="9.8" text-anchor="end" transform="translate(53.00 489.84) scale(1.05 1)" fill="#111" stroke="#111" stroke-width="0.15">0.04</text>
<line x1="55.40" y1="468.46" x2="59.40" y2="468.46" stroke="#444" stroke-width="1"/>
<text x="0" y="0" font-size="9.8" text-anchor="end" transform="translate(53.00 471.26) scale(1.05 1)" fill="#111" stroke="#111" stroke-width="0.15">0.06</text>
<line x1="55.40" y1="449.88" x2="59.40" y2="449.88" stroke="#444" stroke-width="1"/>
<text x="0" y="0" font-size="9.8" text-anchor="end" transform="translate(53.00 452.68) scale(1.05 1)" fill="#111" stroke="#111" stroke-width="0.15">0.08</text>
<line x1="55.40" y1="431.30" x2="59.40" y2="431.30" stroke="#444" stroke-width="1"/>
<text x="0" y="0" font-size="9.8" text-anchor="end" transform="translate(53.00 434.10) scale(1.05 1)" fill="#111" stroke="#111" stroke-width="0.15">0.10</text>
<rect x="64.60" y="457.31" width="22.90" height="66.89" fill="#000" stroke="none" stroke-width="1"/>
<line x1="76.05" y1="457.31" x2="76.05" y2="446.63" stroke="#333" stroke-width="1.1"/>
<line x1="70.55" y1="446.63" x2="81.55" y2="446.63" stroke="#222" stroke-width="1.3"/>
<rect x="98.20" y="521.91" width="22.10" height="2.29" fill="#fff" stroke="#111" stroke-width="1"/>
<line x1="103.45" y1="521.21" x2="115.05" y2="521.21" stroke="#000" stroke-width="1.4"/>
<text x="108.05" y="516.3" font-size="10.5" font-weight="bold" text-anchor="middle" fill="#111">***</text>
<line x1="176.90" y1="430.50" x2="176.90" y2="524.20" stroke="#444" stroke-width="1"/>
<line x1="176.40" y1="524.20" x2="243.80" y2="524.20" stroke="#555" stroke-width="1"/>
<line x1="172.90" y1="524.20" x2="176.90" y2="524.20" stroke="#444" stroke-width="1"/>
<text x="170.1" y="527.5" font-size="9.8" text-anchor="end" fill="#111" stroke="#111" stroke-width="0.15">0.00</text>
<line x1="172.90" y1="505.46" x2="176.90" y2="505.46" stroke="#444" stroke-width="1"/>
<text x="170.1" y="508.76000000000005" font-size="9.8" text-anchor="end" fill="#111" stroke="#111" stroke-width="0.15">0.05</text>
<line x1="172.90" y1="486.72" x2="176.90" y2="486.72" stroke="#444" stroke-width="1"/>
<text x="170.1" y="490.02000000000004" font-size="9.8" text-anchor="end" fill="#111" stroke="#111" stroke-width="0.15">0.10</text>
<line x1="172.90" y1="467.98" x2="176.90" y2="467.98" stroke="#444" stroke-width="1"/>
<text x="170.1" y="471.28000000000003" font-size="9.8" text-anchor="end" fill="#111" stroke="#111" stroke-width="0.15">0.15</text>
<line x1="172.90" y1="449.24" x2="176.90" y2="449.24" stroke="#444" stroke-width="1"/>
<text x="170.1" y="452.54" font-size="9.8" text-anchor="end" fill="#111" stroke="#111" stroke-width="0.15">0.20</text>
<line x1="172.90" y1="430.50" x2="176.90" y2="430.50" stroke="#444" stroke-width="1"/>
<text x="170.1" y="433.8" font-size="9.8" text-anchor="end" fill="#111" stroke="#111" stroke-width="0.15">0.25</text>
<rect x="182.30" y="452.99" width="21.90" height="71.21" fill="#000" stroke="none" stroke-width="1"/>
<line x1="193.25" y1="452.99" x2="193.25" y2="445.68" stroke="#333" stroke-width="1.1"/>
<line x1="187.75" y1="445.68" x2="198.75" y2="445.68" stroke="#222" stroke-width="1.3"/>
<rect x="215.90" y="522.83" width="21.30" height="1.37" fill="#fff" stroke="#111" stroke-width="1"/>
<line x1="220.75" y1="522.13" x2="232.35" y2="522.13" stroke="#000" stroke-width="1.4"/>
<text x="225.35000000000002" y="516.3" font-size="10.5" font-weight="bold" text-anchor="middle" fill="#111">***</text>
<line x1="282.60" y1="433.30" x2="282.60" y2="524.50" stroke="#444" stroke-width="1"/>
<line x1="282.10" y1="524.50" x2="348.00" y2="524.50" stroke="#555" stroke-width="1"/>
<line x1="278.60" y1="524.50" x2="282.60" y2="524.50" stroke="#444" stroke-width="1"/>
<text x="0" y="0" font-size="8.6" text-anchor="end" transform="translate(276.50 526.90) scale(0.98 1)" fill="#111" stroke="#111" stroke-width="0.15">0</text>
<line x1="278.60" y1="514.37" x2="282.60" y2="514.37" stroke="#444" stroke-width="1"/>
<text x="0" y="0" font-size="8.6" text-anchor="end" transform="translate(276.50 516.77) scale(0.98 1)" fill="#111" stroke="#111" stroke-width="0.15">1</text>
<line x1="278.60" y1="504.23" x2="282.60" y2="504.23" stroke="#444" stroke-width="1"/>
<text x="0" y="0" font-size="8.6" text-anchor="end" transform="translate(276.50 506.63) scale(0.98 1)" fill="#111" stroke="#111" stroke-width="0.15">2</text>
<line x1="278.60" y1="494.10" x2="282.60" y2="494.10" stroke="#444" stroke-width="1"/>
<text x="0" y="0" font-size="8.6" text-anchor="end" transform="translate(276.50 496.50) scale(0.98 1)" fill="#111" stroke="#111" stroke-width="0.15">3</text>
<line x1="278.60" y1="483.97" x2="282.60" y2="483.97" stroke="#444" stroke-width="1"/>
<text x="0" y="0" font-size="8.6" text-anchor="end" transform="translate(276.50 486.37) scale(0.98 1)" fill="#111" stroke="#111" stroke-width="0.15">4</text>
<line x1="278.60" y1="473.83" x2="282.60" y2="473.83" stroke="#444" stroke-width="1"/>
<text x="0" y="0" font-size="8.6" text-anchor="end" transform="translate(276.50 476.23) scale(0.98 1)" fill="#111" stroke="#111" stroke-width="0.15">5</text>
<line x1="278.60" y1="463.70" x2="282.60" y2="463.70" stroke="#444" stroke-width="1"/>
<text x="0" y="0" font-size="8.6" text-anchor="end" transform="translate(276.50 466.10) scale(0.98 1)" fill="#111" stroke="#111" stroke-width="0.15">6</text>
<line x1="278.60" y1="453.57" x2="282.60" y2="453.57" stroke="#444" stroke-width="1"/>
<text x="0" y="0" font-size="8.6" text-anchor="end" transform="translate(276.50 455.97) scale(0.98 1)" fill="#111" stroke="#111" stroke-width="0.15">7</text>
<line x1="278.60" y1="443.43" x2="282.60" y2="443.43" stroke="#444" stroke-width="1"/>
<text x="0" y="0" font-size="8.6" text-anchor="end" transform="translate(276.50 445.83) scale(0.98 1)" fill="#111" stroke="#111" stroke-width="0.15">8</text>
<line x1="278.60" y1="433.30" x2="282.60" y2="433.30" stroke="#444" stroke-width="1"/>
<text x="0" y="0" font-size="8.6" text-anchor="end" transform="translate(276.50 435.70) scale(0.98 1)" fill="#111" stroke="#111" stroke-width="0.15">9</text>
<rect x="288.10" y="443.94" width="22.00" height="80.56" fill="#000" stroke="none" stroke-width="1"/>
<line x1="299.10" y1="443.94" x2="299.10" y2="436.85" stroke="#333" stroke-width="1.1"/>
<line x1="293.60" y1="436.85" x2="304.60" y2="436.85" stroke="#222" stroke-width="1.3"/>
<rect x="320.90" y="521.96" width="21.30" height="2.54" fill="#fff" stroke="#111" stroke-width="1"/>
<line x1="325.75" y1="521.26" x2="337.35" y2="521.26" stroke="#000" stroke-width="1.4"/>
<text x="330.34999999999997" y="513.5" font-size="10.5" font-weight="bold" text-anchor="middle" fill="#111">***</text>
<line x1="403.50" y1="432.30" x2="403.50" y2="525.20" stroke="#444" stroke-width="1"/>
<line x1="403.00" y1="525.20" x2="470.80" y2="525.20" stroke="#555" stroke-width="1"/>
<line x1="399.50" y1="525.20" x2="403.50" y2="525.20" stroke="#444" stroke-width="1"/>
<text x="0" y="0" font-size="9.6" text-anchor="end" transform="translate(397.60 527.60) scale(1.05 1)" fill="#111" stroke="#111" stroke-width="0.15">0.0</text>
<line x1="399.50" y1="501.98" x2="403.50" y2="501.98" stroke="#444" stroke-width="1"/>
<text x="0" y="0" font-size="9.6" text-anchor="end" transform="translate(397.60 504.38) scale(1.05 1)" fill="#111" stroke="#111" stroke-width="0.15">2.5</text>
<line x1="399.50" y1="478.75" x2="403.50" y2="478.75" stroke="#444" stroke-width="1"/>
<text x="0" y="0" font-size="9.6" text-anchor="end" transform="translate(397.60 481.15) scale(1.05 1)" fill="#111" stroke="#111" stroke-width="0.15">5.0</text>
<line x1="399.50" y1="455.53" x2="403.50" y2="455.53" stroke="#444" stroke-width="1"/>
<text x="0" y="0" font-size="9.6" text-anchor="end" transform="translate(397.60 457.93) scale(1.05 1)" fill="#111" stroke="#111" stroke-width="0.15">7.5</text>
<line x1="399.50" y1="432.30" x2="403.50" y2="432.30" stroke="#444" stroke-width="1"/>
<text x="0" y="0" font-size="9.6" text-anchor="end" transform="translate(397.60 434.70) scale(1.05 1)" fill="#111" stroke="#111" stroke-width="0.15">10.0</text>
<rect x="409.20" y="445.31" width="21.60" height="79.89" fill="#000" stroke="none" stroke-width="1"/>
<line x1="420.00" y1="445.31" x2="420.00" y2="438.80" stroke="#333" stroke-width="1.1"/>
<line x1="414.50" y1="438.80" x2="425.50" y2="438.80" stroke="#222" stroke-width="1.3"/>
<rect x="442.80" y="515.02" width="21.30" height="10.18" fill="#fff" stroke="#111" stroke-width="1"/>
<line x1="453.45" y1="514.52" x2="453.45" y2="511.73" stroke="#333" stroke-width="1.1"/>
<line x1="447.95" y1="511.73" x2="458.95" y2="511.73" stroke="#222" stroke-width="1.3"/>
<text x="452.25000000000006" y="506.5" font-size="10.5" font-weight="bold" text-anchor="middle" fill="#111">***</text>
<text x="11" y="16" font-size="17.5" font-weight="bold" fill="#000">A</text>
<text x="262.5" y="12.1" font-size="17.5" font-weight="bold" fill="#000">B</text>
<text x="11" y="215.8" font-size="17.5" font-weight="bold" fill="#000">C</text>
<text x="264.8" y="215.8" font-size="17.5" font-weight="bold" fill="#000">D</text>
<text x="9" y="403.2" font-size="17.5" font-weight="bold" fill="#000">E</text>
<text x="149.5" y="189" font-size="11.2" font-weight="bold" text-anchor="middle" fill="#000">Days after treatment</text>
<text x="396.3" y="189" font-size="11.2" font-weight="bold" text-anchor="middle" fill="#000">Days after treatment</text>
<text x="145.6" y="383.3" font-size="11.2" font-weight="bold" text-anchor="middle" fill="#000">Days after treatment</text>
<text x="390.3" y="383.3" font-size="11.2" font-weight="bold" text-anchor="middle" fill="#000">Days after treament</text>
<text x="0" y="0" font-size="10.5" font-weight="bold" text-anchor="middle" transform="translate(11.2 97.3) rotate(-90) scale(1.055 1)" fill="#000">myeloid cells (x10<tspan font-size="9.2" dy="-5.6">6</tspan><tspan dy="5.6">) /</tspan></text>
<text x="0" y="0" font-size="10.5" font-weight="bold" text-anchor="middle" transform="translate(25.6 98) rotate(-90) scale(1.0 1)" fill="#000">mL blood</text>
<text x="0" y="0" font-size="10.5" font-weight="bold" text-anchor="middle" transform="translate(274.2 94.5) rotate(-90) scale(1.08 1)" fill="#000">CD4<tspan font-size="9.2" dy="-5.6">+</tspan><tspan dy="5.6"> T cells (x10</tspan><tspan font-size="9.2" dy="-5.6">6</tspan><tspan dy="5.6">) /</tspan></text>
<text x="0" y="0" font-size="10.5" font-weight="bold" text-anchor="middle" transform="translate(289.5 93) rotate(-90) scale(1.02 1)" fill="#000">mL blood</text>
<text x="0" y="0" font-size="10.5" font-weight="bold" text-anchor="middle" transform="translate(15 294.8) rotate(-90) scale(1.08 1)" fill="#000">CD8<tspan font-size="9.2" dy="-5.6">+</tspan><tspan dy="5.6"> T cells (x10</tspan><tspan font-size="9.2" dy="-5.6">6</tspan><tspan dy="5.6">) /</tspan></text>
<text x="0" y="0" font-size="10.5" font-weight="bold" text-anchor="middle" transform="translate(28.5 302) rotate(-90) scale(1.0 1)" fill="#000">mL blood</text>
<text x="0" y="0" font-size="10.5" font-weight="bold" text-anchor="middle" transform="translate(278.3 290) rotate(-90) scale(1.02 1)" fill="#000">B cells (x10<tspan font-size="9.2" dy="-5.6">6</tspan><tspan dy="5.6">) / mL blood</tspan></text>
<text x="0" y="0" font-size="10.5" font-weight="bold" text-anchor="middle" transform="translate(19.3 476.2) rotate(-90) scale(1.045 1)" fill="#000">pre-pro-B cells (x10<tspan font-size="9.2" dy="-5.6">6</tspan><tspan dy="5.6">)</tspan></text>
<text x="0" y="0" font-size="10.5" font-weight="bold" text-anchor="middle" transform="translate(141.3 472) rotate(-90) scale(1.04 1)" fill="#000">pro-B cells (x10<tspan font-size="9.2" dy="-5.6">6</tspan><tspan dy="5.6">)</tspan></text>
<text x="0" y="0" font-size="10.5" font-weight="bold" text-anchor="middle" transform="translate(264.2 474.5) rotate(-90) scale(1.0 1)" fill="#000">pre-B cells (x10<tspan font-size="9.2" dy="-5.6">6</tspan><tspan dy="5.6">)</tspan></text>
<text x="0" y="0" font-size="10.5" font-weight="bold" text-anchor="middle" transform="translate(373.5 472.6) rotate(-90) scale(1.08 1)" fill="#000">B220<tspan font-size="9.2" dy="-5.6">+</tspan><tspan dy="5.6">IgM</tspan><tspan font-size="9.2" dy="-5.6">+</tspan><tspan dy="5.6"> cells (x10</tspan><tspan font-size="9.2" dy="-5.6">6</tspan><tspan dy="5.6">)</tspan></text>
<line x1="438.60" y1="39.50" x2="471.80" y2="39.50" stroke="#333" stroke-width="1"/>
<rect x="452.80" y="36.80" width="8.20" height="6.20" fill="#000" stroke="none" stroke-width="1"/>
<text x="479.0" y="43.6" font-size="10.2" font-weight="bold" fill="#000">WT</text>
<line x1="438.60" y1="56.50" x2="471.80" y2="56.50" stroke="#333" stroke-width="1"/>
<rect x="453.30" y="53.60" width="7.40" height="5.80" fill="#fff" stroke="#111" stroke-width="1"/>
<text x="480.3" y="59" font-size="10" font-weight="bold" fill="#000">FL</text>
<text x="492.1" y="53.3" font-size="10.4" font-weight="bold" fill="#000">-/-</text>
<rect x="465.00" y="431.30" width="13.50" height="9.30" fill="#000" stroke="none" stroke-width="1"/>
<text x="0" y="0" font-size="14" transform="translate(489.60 440.80) scale(0.93 1)" fill="#000" stroke="#000" stroke-width="0.35">WT</text>
<rect x="465.60" y="453.30" width="12.40" height="8.20" fill="#fff" stroke="#111" stroke-width="1.1"/>
<text x="0" y="0" font-size="14" transform="translate(490.60 462.10) scale(0.93 1)" fill="#000" stroke="#000" stroke-width="0.35">FL</text>
<text x="507.0" y="456.4" font-size="12.6" fill="#000" stroke="#000" stroke-width="0.3">-/-</text>
</svg></body></html>
